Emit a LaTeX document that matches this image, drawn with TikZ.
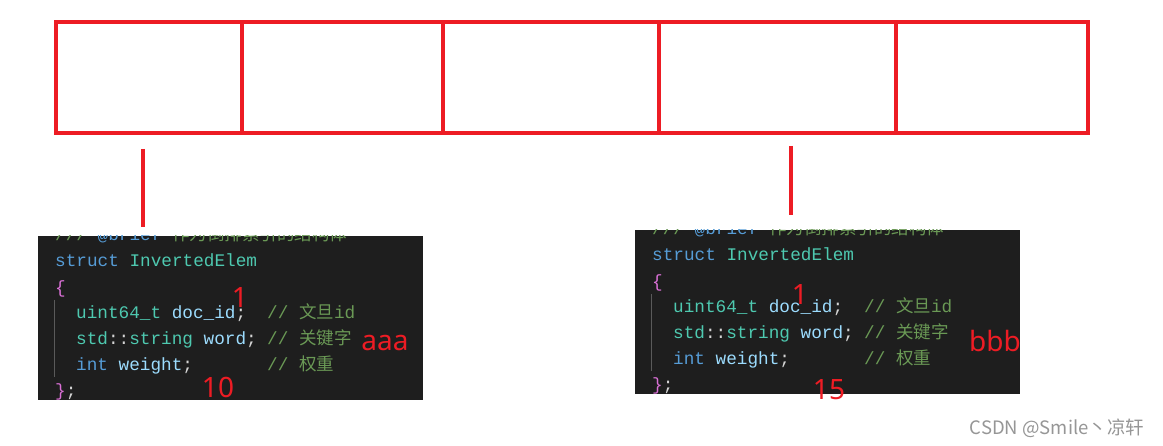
\documentclass[tikz,border=0pt]{standalone}
\usepackage{fontspec}
\setmainfont{Noto Sans}
\setmonofont{Liberation Mono}
\newfontfamily\cjk{Noto Sans CJK SC}
\newcommand\zh[1]{{\cjk\fontsize{17.5}{19}\selectfont #1}}
\definecolor{mark}{RGB}{237,28,36}
\definecolor{codebg}{RGB}{30,30,30}
\definecolor{kw}{RGB}{86,156,214}
\definecolor{ty}{RGB}{78,201,176}
\definecolor{var}{RGB}{156,220,254}
\definecolor{pun}{RGB}{212,212,212}
\definecolor{cm}{RGB}{106,153,85}
\definecolor{br}{RGB}{218,112,214}
\definecolor{guide}{RGB}{90,90,90}
\definecolor{wm}{RGB}{150,150,150}
\tikzset{
  cell/.style={draw=mark, line width=4pt, minimum height=111pt, inner sep=0pt, anchor=north west},
  redline/.style={draw=mark, line width=4pt},
  code/.style={inner sep=0pt, anchor=base west, font=\ttfamily\fontsize{17.7}{20}\selectfont, text=pun},
  redlabel/.style={inner sep=0pt, anchor=base, text=mark, font=\fontsize{28}{30}\selectfont},
  codepanel/.pic={
    \fill[codebg] (0,0) rectangle (385,164);
    \begin{scope}
      \clip (0,0) rectangle (385,164);
      \node[code] (-l0) at (17,5) {\textcolor{cm}{///} \textcolor{kw}{@brief} \zh{\textcolor{cm}{作为倒排索引的结构体}}};
    \end{scope}
    \node[code] (-l1) at (17,31) {\textcolor{kw}{struct} \textcolor{ty}{InvertedElem}};
    \node[code] (-l2) at (17,58) {\textcolor{br}{\{}};
    \node[code] (-l3) at (38,83) {\textcolor{ty}{uint64\_t} \textcolor{var}{doc\_id}\textcolor{pun}{;}};
    \node[code] (-l4) at (38,109) {\textcolor{ty}{std}\textcolor{pun}{::}\textcolor{ty}{string} \textcolor{var}{word}\textcolor{pun}{;}};
    \node[code] (-l5) at (38,135) {\textcolor{kw}{int} \textcolor{var}{weight}\textcolor{pun}{;}};
    \node[code] (-l6) at (17,161) {\textcolor{br}{\}}\textcolor{pun}{;}};
    \node[code] (-c3) at (229,83) {\textcolor{cm}{// \zh{文旦}id}};
    \node[code] (-c4) at (229,109) {\textcolor{cm}{// \zh{关键字}}};
    \node[code] (-c5) at (229,135) {\textcolor{cm}{// \zh{权重}}};
    \draw[guide, line width=0.8pt] (16.5,64) -- (16.5,141);
  }
}
\begin{document}
\begin{tikzpicture}[x=1pt,y=-1pt]
\useasboundingbox[fill=white] (0,0) rectangle (1163,446);
% top array of cells
\node[cell, minimum width=186pt] (c1) at (54,20) {};
\node[cell, minimum width=201pt] (c2) at (240,20) {};
\node[cell, minimum width=216pt] (c3) at (441,20) {};
\node[cell, minimum width=237pt] (c4) at (657,20) {};
\node[cell, minimum width=192pt] (c5) at (894,20) {};
% connectors
\coordinate (a1) at (143,149);
\coordinate (a2) at (143,227);
\coordinate (b1) at (791,146);
\coordinate (b2) at (791,215);
\draw[redline] (a1) -- (a2);
\draw[redline] (b1) -- (b2);
% code panels
\pic (L) at (38,236) {codepanel};
\pic (R) at (635,230) {codepanel};
% red labels
\node[redlabel] (L1) at (240,308) {1};
\node[redlabel] (La) at (385,351) {aaa};
\node[redlabel] (L10) at (218,398) {10};
\node[redlabel] (R1) at (800,305) {1};
\node[redlabel] (Rb) at (995,352) {bbb};
\node[redlabel] (R15) at (829,400) {15};
% watermark
\node[inner sep=0pt, text=wm, font=\cjk\fontsize{18.5}{20}\selectfont] (wm) at (1057,428) {CSDN @Smile丶凉轩};
\end{tikzpicture}
\end{document}
